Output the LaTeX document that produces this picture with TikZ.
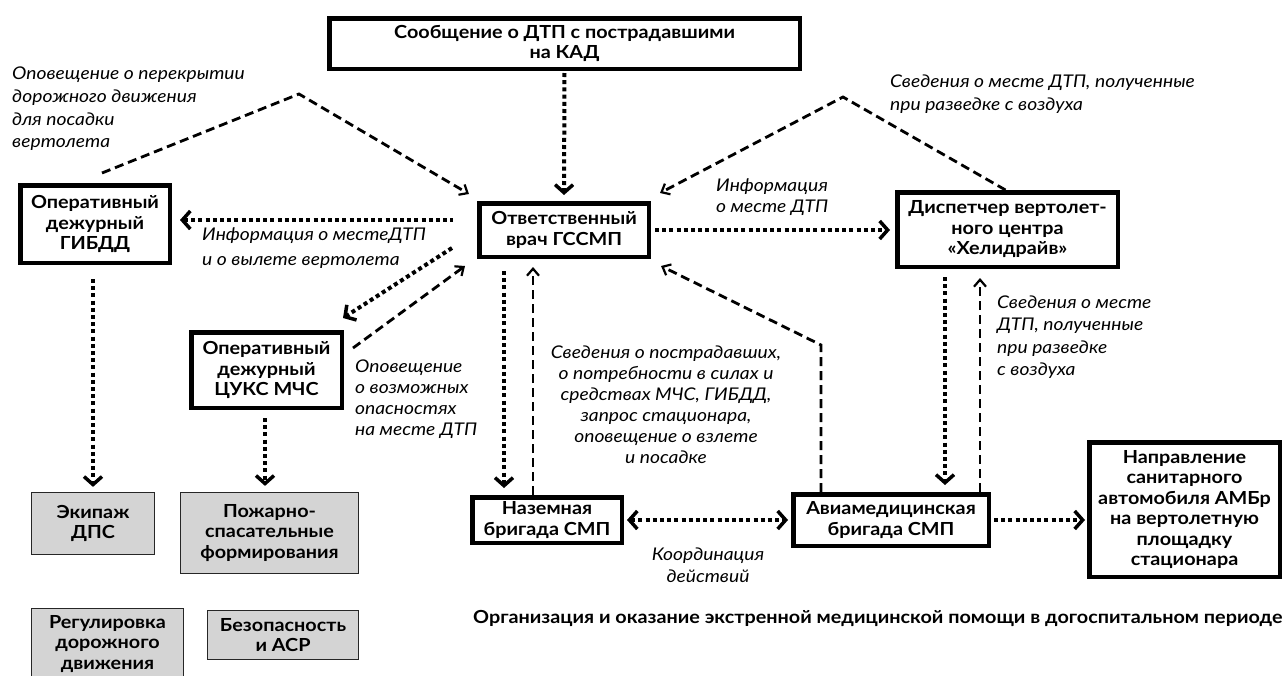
\documentclass[tikz,border=0pt]{standalone}
\usepackage{fontspec}
\setmainfont{Lato}[FakeStretch=1.1]
\usetikzlibrary{arrows.meta}
\definecolor{boxgray}{RGB}{212,212,212}
\tikzset{
  box/.style={draw, line width=4.5pt, fill=white, inner sep=0pt, align=center,
    font=\bfseries\fontsize{18}{20.5}\selectfont},
  gbox/.style={draw=black!85, line width=1.2pt, fill=boxgray, inner sep=0pt, align=center,
    font=\bfseries\fontsize{18}{20.5}\selectfont},
  lbl/.style={inner sep=0pt, font=\itshape\fontsize{17.5}{22}\selectfont},
  dotl/.style={line width=4pt, dash pattern=on 4pt off 3.2pt,
    >={Straight Barb[length=8pt,width=18pt,line width=3.5pt]}},
  dashl/.style={line width=2.8pt, dash pattern=on 9pt off 5pt,
    >={Straight Barb[length=7pt,width=12pt,line width=2.2pt]}}
}
\begin{document}
\begin{tikzpicture}[x=1pt,y=-1pt]
\useasboundingbox (0,0) rectangle (1287,675);
\fill[white] (0,0) rectangle (1287,675);

% boxes
\node[box, minimum width=470.5pt, minimum height=50.5pt] (top) at (564.5,43.5) {Сообщение о ДТП с пострадавшими\\на КАД};
\node[box, minimum width=149.5pt, minimum height=77.5pt] (gibdd) at (95,224) {Оперативный\\дежурный\\ГИБДД};
\node[box, minimum width=169.5pt, minimum height=53.5pt] (otv) at (564,230) {Ответственный\\врач ГССМП};
\node[box, minimum width=220.5pt, minimum height=74.5pt] (disp) at (1007.5,229.5) {Диспетчер вертолет-\\ного центра\\«Хелидрайв»};
\node[box, minimum width=150.5pt, minimum height=75.5pt] (tsuks) at (266.5,370) {Оперативный\\дежурный\\ЦУКС МЧС};
\node[box, minimum width=149.5pt, minimum height=45.5pt] (naz) at (547,520) {Наземная\\бригада СМП};
\node[box, minimum width=195.5pt, minimum height=51.5pt] (avia) at (891,520) {Авиамедицинская\\бригада СМП};
\node[box, minimum width=190.5pt, minimum height=134.5pt] (napr) at (1184.5,509.5) {Направление\\санитарного\\автомобиля АМБр\\на вертолетную\\площадку\\стационара};

\node[gbox, minimum width=123pt, minimum height=62pt] (ekip) at (93,523.5) {Экипаж\\ДПС};
\node[gbox, minimum width=178pt, minimum height=81pt] (pozh) at (269.5,533) {Пожарно-\\спасательные\\формирования};
\node[gbox, minimum width=152pt, minimum height=71pt] (regul) at (107.5,644) {Регулировка\\дорожного\\движения};
\node[gbox, minimum width=151pt, minimum height=49pt] (bezop) at (283,635) {Безопасность\\и АСР};

% connectors
\draw[dotl,->, shorten <=2pt, shorten >=6pt] (top.south) -- (otv.north);
\draw[dotl,<-, shorten <=8pt, shorten >=24pt] (gibdd.east |- 0,220) -- (otv.west |- 0,220);
\draw[dashl,->] ([shift={(7pt,10pt)}]gibdd.north) -- (299,94) -- ([shift={(-8pt,7pt)}]otv.north west);
\draw[dotl,->] ([shift={(-25pt,11pt)}]otv.south west) -- ([shift={(-1pt,12pt)}]tsuks.north east);
\draw[dashl,->] ([shift={(9pt,22pt)}]tsuks.east) -- ([shift={(-12pt,-7pt)}]otv.south west);
\draw[dotl,->] ([shift={(-2pt,-14pt)}]gibdd.south) -- ([yshift=5pt]ekip.north);
\draw[dotl,->] ([shift={(-1.5pt,-8pt)}]tsuks.south) -- ([shift={(-4.5pt,6pt)}]pozh.north);
\draw[dotl,->, shorten <=12pt, shorten >=7pt] (otv.south -| 504,0) -- (naz.north -| 504,0);
\draw[dashl,->, shorten >=8pt] (naz.north -| 533,0) -- (otv.south -| 533,0);
\draw[dotl,->, shorten <=4pt, shorten >=5pt] (otv.east |- 0,230) -- (disp.west |- 0,230);
\draw[dashl,->] ([xshift=-2pt]disp.north) -- (843,97) -- ([shift={(9pt,8pt)}]otv.north east);
\draw[dashl,->] (avia.north -| 821,0) -- (821,345) -- ([shift={(10pt,-7pt)}]otv.south east);
\draw[dotl,->, shorten <=8pt, shorten >=7pt] (disp.south -| 945,0) -- (avia.north -| 945,0);
\draw[dashl,->, shorten >=9pt] (avia.north -| 980,0) -- (disp.south -| 980,0);
\draw[dotl,<->, shorten <=3pt, shorten >=3pt] (naz.east |- 0,520) -- (avia.west |- 0,520);
\draw[dotl,->, shorten <=3pt, shorten >=2pt] (avia.east |- 0,520) -- (napr.west |- 0,520);

% labels
\node[lbl, align=left, anchor=west, font=\itshape\fontsize{17.5}{22.7}\selectfont] (l1) at (12,109) {Оповещение о перекрытии\\дорожного движения\\для посадки\\вертолета};
\node[lbl, align=left, anchor=west, font=\itshape\fontsize{17.5}{25}\selectfont] (l2) at (202,248) {Информация о местеДТП\\и о вылете вертолета};
\node[lbl, align=left, anchor=west, font=\itshape\fontsize{17.5}{20.5}\selectfont] (l3) at (716,197) {Информация\\о месте ДТП};
\node[lbl, align=left, anchor=west, font=\itshape\fontsize{17.5}{23}\selectfont] (l4) at (890,94.5) {Сведения о месте ДТП, полученные\\при разведке с воздуха};
\node[lbl, align=left, anchor=west, font=\itshape\fontsize{17.5}{21}\selectfont] (l5) at (355,399) {Оповещение\\о возможных\\опасностях\\на месте ДТП};
\node[lbl, align=center, font=\itshape\fontsize{17.5}{21}\selectfont] (l6) at (666,404.5) {Сведения о пострадавших,\\о потребности в силах и\\средствах МЧС, ГИБДД,\\запрос стационара,\\оповещение о взлете\\и посадке};
\node[lbl, align=left, anchor=west, font=\itshape\fontsize{17.5}{22.5}\selectfont] (l7) at (997,337) {Сведения о месте\\ДТП, полученные\\при разведке\\с воздуха};
\node[lbl, align=center, font=\itshape\fontsize{17.5}{22}\selectfont] (l8) at (708,565) {Координация\\действий};
\node[inner sep=0pt, anchor=west, font=\bfseries\fontsize{18}{20}\selectfont] (l9) at (473,618) {Организация и оказание экстренной медицинской помощи в догоспитальном периоде};
\end{tikzpicture}
\end{document}
